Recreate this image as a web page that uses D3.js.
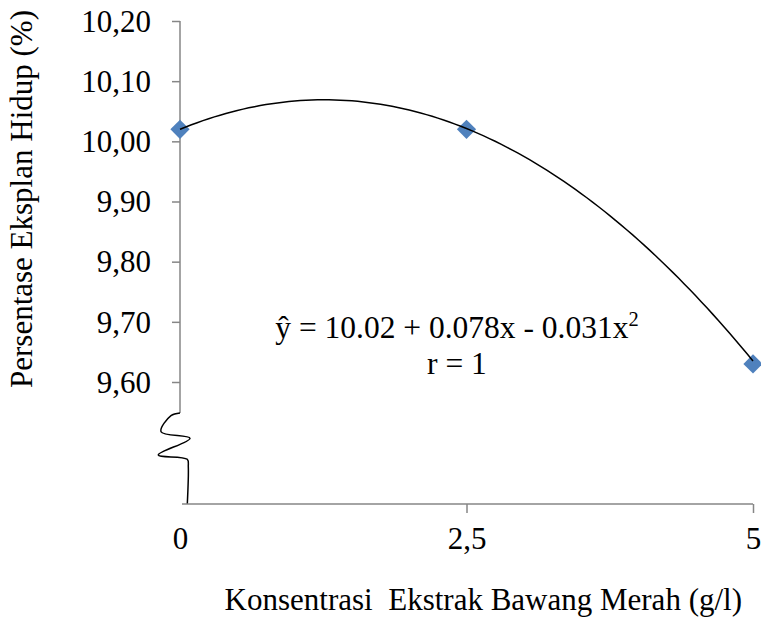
<!DOCTYPE html>
<html>
<head>
<meta charset="utf-8">
<script src="https://cdn.jsdelivr.net/npm/d3@7"></script>
<style>
  body { margin: 0; background: #fff; }
  .axis path, .axis line { stroke: #868686; stroke-width: 1.5; }
</style>
</head>
<body>
<svg id="chart" width="761" height="620"></svg>
<script>
// data
var concentrations = [0, 2.5, 5];
var survival       = [10.02, 10.02, 9.63];
var xTicks         = [0, 2.5, 5];
var yTicks         = [9.6, 9.7, 9.8, 9.9, 10.0, 10.1, 10.2];
var coef           = [10.02, 0.078, -0.031];   // regression y = a + bx + cx^2
var eqLines        = ["ŷ = 10.02 + 0.078x - 0.031x", "r = 1"];
var xLabel         = "Konsentrasi  Ekstrak Bawang Merah (g/l)";
var yLabel         = "Persentase Eksplan Hidup (%)";

var FONT = "Liberation Serif";
var svg = d3.select("#chart");
var fsTick  = 31,
    fsEq    = 31.5,
    fsTitle = 31;

var x = d3.scaleLinear().domain([0, 5]).range([180, 753]);
var y = d3.scaleLinear().domain([9.6, 10.2]).range([382, 21]);
var axisY  = 504,
    breakY = 413;

var fmt = function(v) { return d3.format(".2f")(v).replace(".", ","); };

// y axis
var gy = svg.append("g")
    .attr("class", "axis axis--y")
    .attr("transform", "translate(180,0)")
    .call(d3.axisLeft(y)
            .tickValues(yTicks)
            .tickFormat(fmt)
            .tickSizeOuter(0)
            .tickSizeInner(8)
            .tickPadding(21));
gy.select(".domain").attr("d", "M0," + y(10.2) + "V" + breakY);
gy.selectAll("text")
    .style("font-family", FONT)
    .attr("font-size", fsTick)
    .attr("fill", "#000")
    .attr("dy", "0.33em");

// axis break
var brk = [[180, breakY], [171, 415.7], [161, 431.7], [190, 438.3],
           [158.3, 455], [187.3, 459.3], [188.3, 466.7], [187.3, axisY]];
svg.append("path")
    .attr("d", d3.line().curve(d3.curveCatmullRom.alpha(0.5))(brk))
    .attr("fill", "none")
    .attr("stroke", "#000")
    .attr("stroke-width", 1.5);

// x axis
var gx = svg.append("g")
    .attr("class", "axis axis--x")
    .attr("transform", "translate(0," + axisY + ")")
    .call(d3.axisBottom(x)
            .tickValues(xTicks)
            .tickFormat(function(v) { return String(v).replace(".", ","); })
            .tickSizeOuter(0)
            .tickSizeInner(9)
            .tickPadding(20));
gx.select(".domain").attr("d", "M182,0H" + x(5));
gx.selectAll(".tick").filter(function(d) { return d === 0; }).select("line").remove();
gx.selectAll("text")
    .style("font-family", FONT)
    .attr("font-size", fsTick)
    .attr("fill", "#000")
    .attr("dy", "0.5em");

// markers
svg.selectAll(".pt")
    .data(concentrations)
    .enter().append("path")
    .attr("class", "pt")
    .attr("d", d3.symbol().type(d3.symbolSquare).size(185))
    .attr("transform", function(d, i) { return "translate(" + x(d) + "," + y(survival[i]) + ") rotate(45)"; })
    .attr("fill", "#4F81BD");

// trend curve
var xs = d3.range(0, 5.0001, 0.05);
var line = d3.line()
    .x(function(d) { return x(d); })
    .y(function(d) { return y(coef[0] + coef[1] * d + coef[2] * d * d); })
    .curve(d3.curveMonotoneX);
svg.append("path")
    .datum(xs)
    .attr("d", line)
    .attr("fill", "none")
    .attr("stroke", "#000")
    .attr("stroke-width", 1.5);

// equation
var eq = svg.append("text")
    .style("font-family", FONT)
    .attr("x", 457)
    .attr("y", 338)
    .attr("text-anchor", "middle")
    .attr("font-size", fsEq);
eq.append("tspan").text(eqLines[0]);
eq.append("tspan").attr("dy", -12).attr("font-size", fsEq * 0.65).text("2");
svg.append("text")
    .style("font-family", FONT)
    .attr("x", 457)
    .attr("y", 374)
    .attr("text-anchor", "middle")
    .attr("font-size", fsEq)
    .text(eqLines[1]);

// axis titles
svg.append("text")
    .style("font-family", FONT)
    .attr("x", 742)
    .attr("y", 610)
    .attr("text-anchor", "end")
    .attr("font-size", fsTitle)
    .style("white-space", "pre")
    .text(xLabel);

svg.append("text")
    .style("font-family", FONT)
    .attr("transform", "translate(32,199) rotate(-90)")
    .attr("text-anchor", "middle")
    .attr("font-size", fsTitle)
    .text(yLabel);
</script>
</body>
</html>
